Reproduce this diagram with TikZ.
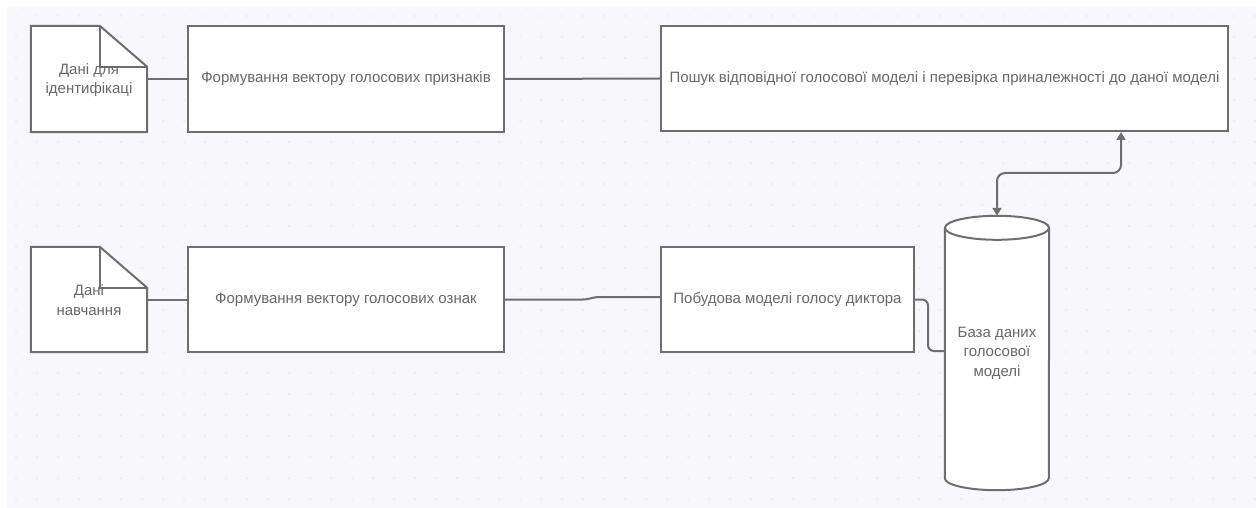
\documentclass[tikz,border=0pt]{standalone}
\usepackage{fontspec}
\setmainfont{Liberation Sans}
\usetikzlibrary{arrows.meta,calc}
\definecolor{bgc}{HTML}{F8F8FC}
\definecolor{dotc}{HTML}{E8E8EE}
\definecolor{linec}{HTML}{6E6E6E}
\definecolor{txtc}{HTML}{686868}
\tikzset{
  box/.style={draw=linec, line width=2pt, fill=white, rectangle, inner sep=0pt,
    text=txtc, font=\fontsize{15}{19.5}\selectfont, align=center},
  frame/.style={rectangle, inner sep=0pt, text=txtc,
    font=\fontsize{15}{19.5}\selectfont, align=center},
  conn/.style={draw=linec, line width=2pt},
}
\begin{document}
\begin{tikzpicture}[x=1pt,y=-1pt]
\useasboundingbox (0,0) rectangle (1256,508);
% canvas with a faint dot grid
\fill[bgc] (7,7) rectangle (1256,508);
\foreach \i in {0,...,59}{
  \foreach \j in {0,...,23}{
    \fill[dotc] (16+\i*21,16+\j*21) circle (1);
  }
}

% --- document shapes (outline drawn from the node's corners) ---
\node[frame, minimum width=116, minimum height=106] (d1) at (89,79) {};
\node[frame, minimum width=116, minimum height=105] (d2) at (89,299.5) {};
\foreach \d in {d1,d2}{
  \fill[white] (\d.south west) -- (\d.north west) -- ($(\d.north west)+(69,0)$)
     -- ($(\d.north east)+(0,41)$) -- (\d.south east) -- cycle;
  \draw[conn, line join=miter] (\d.south west) -- (\d.north west) -- ($(\d.north west)+(69,0)$)
     -- ($(\d.north east)+(0,41)$) -- (\d.south east) -- cycle;
  \draw[conn] ($(\d.north west)+(69,0)$) -- ($(\d.north west)+(69,41)$) -- ($(\d.north east)+(0,41)$);
}
\node[frame] at (89,80) {Дані для\\ідентифікаці};
\node[frame] at (89,300) {Дані\\навчання};

% --- process boxes ---
\node[box, minimum width=316, minimum height=106] (b1) at (346,79)
  {Формування вектору голосових признаків};
\node[box, minimum width=567, minimum height=105] (b2) at (944.5,78.5)
  {Пошук відповідної голосової моделі і перевірка приналежності до даної моделі};
\node[box, minimum width=316, minimum height=105] (b3) at (346,299.5)
  {Формування вектору голосових ознак};
\node[box, minimum width=253, minimum height=105] (b4) at (787.5,299.5)
  {Побудова моделі голосу диктора};

% --- database cylinder ---
\node[frame, minimum width=104, minimum height=274] (db) at (997,353) {};
\fill[white] ($(db.north west)+(0,12)$) -- ($(db.south west)+(0,-12)$)
  arc[start angle=180, end angle=360, x radius=52, y radius=-12]
  -- ($(db.north east)+(0,12)$)
  arc[start angle=0, end angle=180, x radius=52, y radius=-12] -- cycle;
\draw[conn] ($(db.north west)+(0,12)$) -- ($(db.south west)+(0,-12)$)
  arc[start angle=180, end angle=360, x radius=52, y radius=-12]
  -- ($(db.north east)+(0,12)$);
\draw[conn] ($(db.north)+(0,12)$) ellipse[x radius=52, y radius=12];
\node[frame] at (997,353) {База даних\\голосової\\моделі};

% --- connectors ---
\draw[conn] (d1.east) -- (b1.west);
\draw[conn] (b1.east) -- (b2.west);
\draw[conn] (d2.east) -- (b3.west);
\draw[conn] (b3.east) -- ++(78,0) to[out=0,in=180] ++(16,-2.5) -- ($(b4.west)+(0,-2.5)$);
\draw[conn, rounded corners=6] (b4.east) -- ++(13,0) |- ($(db.west)+(0,-2)$);
\coordinate (bend) at (1121,173);
\draw[conn, {Triangle[width=9pt,length=8pt]}-{Triangle[width=9pt,length=8pt]}, rounded corners=8]
  (db.north) -- (db.north |- bend) -- (bend) -- (b2.south -| bend);
\end{tikzpicture}
\end{document}
